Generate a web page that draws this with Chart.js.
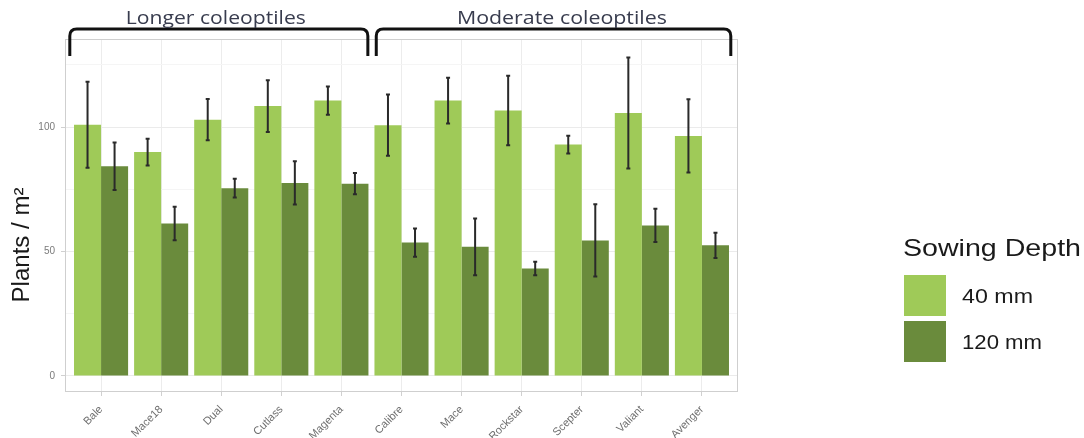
<!DOCTYPE html>
<html>
<head>
<meta charset="utf-8">
<script src="https://cdn.jsdelivr.net/npm/chart.js@4"></script>
<style>
  body { margin: 0; background: #fff; }
  #wrap { width: 1084px; height: 438px; }
</style>
</head>
<body>
<div id="wrap"><canvas id="chart" width="1084" height="438"></canvas></div>
<script>
// Plant establishment by variety and sowing depth

const categories = ['Bale', 'Mace18', 'Dual', 'Cutlass', 'Magenta', 'Calibre', 'Mace', 'Rockstar', 'Scepter', 'Valiant', 'Avenger'];
const mean40 = [101, 90, 103, 108.5, 110.7, 100.8, 110.7, 106.7, 93, 105.7, 96.5];
const err40 = [17.3, 5.4, 8.3, 10.4, 5.7, 12.3, 9.2, 14, 3.6, 22.3, 14.7];
const mean120 = [84.3, 61.3, 75.5, 77.6, 77.3, 53.6, 51.9, 43.2, 54.5, 60.5, 52.5];
const err120 = [9.5, 6.7, 3.8, 8.7, 4.3, 5.7, 11.4, 2.7, 14.5, 6.7, 5.1];
const yTicks = [0, 25, 50, 75, 100, 125];
const seriesNames = ['40 mm', '120 mm'];
const groups = [
    { label: 'Longer coleoptiles', from: -0.52, to: 4.44, textAt: 1.91, textWidth: 180 },
    { label: 'Moderate coleoptiles', from: 4.58, to: 10.48, textAt: 7.67, textWidth: 210 }
];

const LIGHT = '#9fca58';
const DARK = '#6a8b3c';

// text squeezed/stretched to a given width (the source image is not to scale)
function fillStretched(ctx, text, x, y, width, align) {
    const w = ctx.measureText(text).width;
    const sx = width / w;
    ctx.save();
    ctx.translate(x, y);
    ctx.scale(sx, 1);
    ctx.textAlign = align || 'left';
    ctx.fillText(text, 0, 0);
    ctx.restore();
}

const errorBars = {
    id: 'errorBars',
    afterDatasetsDraw(chart) {
        const ctx = chart.ctx;
        const y = chart.scales.y;
        const errs = [err40, err120];
        ctx.save();
        ctx.strokeStyle = '#2a2a2a';
        ctx.lineWidth = 2;
        chart.data.datasets.forEach((ds, di) => {
            const meta = chart.getDatasetMeta(di);
            meta.data.forEach((bar, i) => {
                const v = ds.data[i].y;
                const top = y.getPixelForValue(v + errs[di][i]);
                const bot = y.getPixelForValue(v - errs[di][i]);
                ctx.beginPath();
                ctx.moveTo(bar.x, top);
                ctx.lineTo(bar.x, bot);
                ctx.moveTo(bar.x - 2, top);
                ctx.lineTo(bar.x + 2, top);
                ctx.moveTo(bar.x - 2, bot);
                ctx.lineTo(bar.x + 2, bot);
                ctx.stroke();
            });
        });
        ctx.restore();
    }
};

const decorations = {
    id: 'decorations',
    beforeDatasetsDraw(chart) {
        // panel border
        const a = chart.chartArea;
        const ctx = chart.ctx;
        ctx.save();
        ctx.strokeStyle = '#cfcfcf';
        ctx.lineWidth = 1;
        ctx.strokeRect(a.left + 0.5, a.top + 0.5, a.right - a.left - 1, a.bottom - a.top - 1);
        ctx.restore();
    },
    afterDraw(chart) {
        const ctx = chart.ctx;
        const x = chart.scales.x;
        ctx.save();

        // brackets over the two variety groups
        ctx.strokeStyle = '#111';
        ctx.lineWidth = 3;
        ctx.lineJoin = 'round';
        groups.forEach(g => {
            const x0 = x.getPixelForValue(g.from);
            const x1 = x.getPixelForValue(g.to);
            ctx.beginPath();
            ctx.moveTo(x0, 56);
            ctx.lineTo(x0, 36);
            ctx.quadraticCurveTo(x0, 29, x0 + 7, 29);
            ctx.lineTo(x1 - 7, 29);
            ctx.quadraticCurveTo(x1, 29, x1, 36);
            ctx.lineTo(x1, 56);
            ctx.stroke();

            ctx.fillStyle = '#383c4e';
            ctx.font = '19px "Open Sans", sans-serif';
            ctx.textBaseline = 'alphabetic';
            fillStretched(ctx, g.label, x.getPixelForValue(g.textAt), 24, g.textWidth, 'center');
        });

        // y axis title
        ctx.save();
        ctx.translate(23, 245);
        ctx.rotate(-Math.PI / 2);
        ctx.fillStyle = '#1a1a1a';
        ctx.font = '23px "Liberation Sans", Arial, sans-serif';
        ctx.textBaseline = 'middle';
        fillStretched(ctx, 'Plants / m\u00b2', 0, 0, 115, 'center');
        ctx.restore();

        // legend
        ctx.fillStyle = '#1a1a1a';
        ctx.textBaseline = 'alphabetic';
        ctx.font = '24px "Liberation Sans", Arial, sans-serif';
        fillStretched(ctx, 'Sowing Depth', 903, 256, 178);
        const keyTop = [275, 321];
        const labelW = [71, 80];
        chart.data.datasets.forEach((ds, di) => {
            ctx.fillStyle = ds.backgroundColor;
            ctx.fillRect(904, keyTop[di], 42, 41);
            ctx.fillStyle = '#1a1a1a';
            ctx.font = '20px "Liberation Sans", Arial, sans-serif';
            ctx.textBaseline = 'middle';
            fillStretched(ctx, ds.label, 962, keyTop[di] + 22, labelW[di]);
        });
        ctx.restore();
    }
};

const xs = categories.map((c, i) => i);

new Chart(document.getElementById('chart'), {
    type: 'bar',
    data: {
        datasets: [
            {
                label: seriesNames[0],
                data: xs.map(i => ({ x: i, y: mean40[i] })),
                backgroundColor: LIGHT,
                borderWidth: 0
            },
            {
                label: seriesNames[1],
                data: xs.map(i => ({ x: i, y: mean120[i] })),
                backgroundColor: DARK,
                borderWidth: 0
            }
        ]
    },
    options: {
        responsive: false,
        animation: false,
        devicePixelRatio: 1,
        categoryPercentage: 0.9,
        barPercentage: 1.0,
        layout: { padding: { left: 0, top: 39, right: 346, bottom: 0 } },
        plugins: {
            legend: { display: false },
            tooltip: { enabled: false }
        },
        scales: {
            x: {
                type: 'linear',
                min: -0.6,
                max: 10.6,
                offset: false,
                afterBuildTicks: axis => { axis.ticks = xs.map(v => ({ value: v })); },
                afterFit: axis => { axis.height = 46; },
                grid: {
                    offset: false,
                    color: '#ececec',
                    tickColor: '#d0d0d0',
                    tickLength: 4
                },
                border: { display: false },
                ticks: {
                    autoSkip: false,
                    maxRotation: 45,
                    minRotation: 45,
                    padding: 7,
                    color: '#6e6e6e',
                    font: { family: '"Liberation Sans", Arial, sans-serif', size: 11 },
                    callback: v => categories[v]
                }
            },
            y: {
                min: -6.45,
                max: 135.45,
                afterBuildTicks: axis => { axis.ticks = yTicks.map(v => ({ value: v })); },
                afterFit: axis => { axis.width = 65; },
                grid: {
                    color: c => (c.tick && c.tick.value % 50 === 0) ? '#ebebeb' : '#f5f5f5',
                    tickColor: c => (c.tick && c.tick.value % 50 === 0) ? '#d0d0d0' : 'rgba(0,0,0,0)',
                    tickLength: 4
                },
                border: { display: false },
                ticks: {
                    padding: 6,
                    color: '#7a7a7a',
                    font: { family: '"Liberation Sans", Arial, sans-serif', size: 10 },
                    callback: v => (v % 50 === 0 ? String(v) : '')
                }
            }
        }
    },
    plugins: [decorations, errorBars]
});
</script>
</body>
</html>
